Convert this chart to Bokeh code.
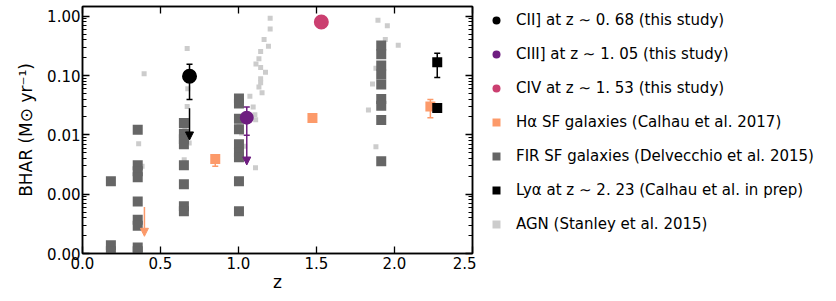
import numpy as np
from bokeh.plotting import figure
from bokeh.layouts import row
from bokeh.models import (ColumnDataSource, LinearAxis, LogAxis, FixedTicker,
                          PrintfTickFormatter, CustomJSTickFormatter, Range1d,
                          Legend, LegendItem, Arrow, NormalHead)
from bokeh.embed import file_html
from bokeh.resources import INLINE

FONT = "DejaVu Sans"

# ---------------- data ----------------
agn_z = [0.395, 0.360, 0.382, 0.671, 0.675, 0.671, 0.656, 0.684, 0.652,
         1.203, 1.203, 1.164, 1.192, 1.142, 1.131, 1.112, 1.142, 1.173, 1.142,
         1.142, 1.131, 1.151, 1.073, 1.094, 1.105, 1.110, 1.003, 1.020, 1.040,
         1.109, 1.894, 1.954, 1.941, 2.024, 1.881, 1.902, 1.859, 1.833, 1.881]
agn_bhar = [0.107, 0.0071, 0.00295, 0.285, 0.060, 0.030, 0.0122, 0.0073, 0.0038,
            0.925, 0.61, 0.405, 0.31, 0.255, 0.192, 0.156, 0.137, 0.114, 0.088,
            0.0757, 0.0638, 0.0513, 0.0445, 0.0295, 0.0219, 0.018, 0.0139, 0.0107,
            0.0064, 0.0028, 0.857, 0.689, 0.406, 0.325, 0.132, 0.098, 0.0717,
            0.0262, 0.0063]

fir_z = [0.182, 0.182, 0.182,
         0.354, 0.354, 0.354, 0.354, 0.354, 0.354, 0.354, 0.354, 0.354,
         0.650, 0.650, 0.650, 0.650, 0.650, 0.650, 0.650, 0.650,
         1.003, 1.003, 1.003, 1.003, 1.003, 1.003, 1.003, 1.003, 1.003,
         1.915, 1.915, 1.915, 1.915, 1.915, 1.915, 1.915, 1.915, 1.915]
fir_bhar = [1.65e-3, 1.38e-4, 1.09e-4,
            0.01224, 3.07e-3, 2.43e-3, 1.92e-3, 7.5e-4, 3.71e-4, 2.94e-4, 1.26e-4, 1.09e-4,
            0.0159, 0.0104, 8.4e-3, 6.92e-3, 3.07e-3, 1.47e-3, 6.25e-4, 5.15e-4,
            0.0411, 0.0339, 0.0186, 0.0124, 6.92e-3, 5.07e-3, 4.18e-3, 1.65e-3, 5.15e-4,
            0.321, 0.229, 0.148, 0.1044, 0.0708, 0.0401, 0.031, 0.01775, 3.58e-3]

ha_z = [0.851, 1.474, 2.230]
ha_bhar = [0.0039, 0.0193, 0.030]
ha_lo = [0.00295, 0.0175, 0.0195]
ha_hi = [0.0046, 0.021, 0.0396]
ha_lim_z = [0.397]
ha_lim_top = [0.00061]
ha_lim_tip = [0.000195]

lya_z = [2.274, 2.274]
lya_bhar = [0.168, 0.0283]
lya_lo = [0.093, 0.0283]
lya_hi = [0.238, 0.0283]

cii_z = [0.686]
cii_bhar = [0.097]
cii_lo = [0.0396]
cii_hi = [0.155]
cii_lim_z = [0.686]
cii_lim_top = [0.028]
cii_lim_tip = [0.0082]

ciii_z = [1.053]
ciii_bhar = [0.0195]
ciii_lo = [0.0098]
ciii_hi = [0.0294]
ciii_lim_z = [1.053]
ciii_lim_top = [0.0098]
ciii_lim_tip = [0.0031]

civ_z = [1.531]
civ_bhar = [0.80]

x_ticks = [0.0, 0.5, 1.0, 1.5, 2.0, 2.5]
y_ticks = [1e-4, 1e-3, 1e-2, 1e-1, 1.0]

labels = ["CII] at z \u223c 0. 68 (this study)",
          "CIII] at z \u223c 1. 05 (this study)",
          "CIV at z \u223c 1. 53 (this study)",
          "H\u03b1 SF galaxies (Calhau et al. 2017)",
          "FIR SF galaxies (Delvecchio et al. 2015)",
          "Ly\u03b1 at z \u223c 2. 23 (Calhau et al. in prep)",
          "AGN (Stanley et al. 2015)"]

# ---------------- colours ----------------
C_CII = "#000000"
C_CIII = "#6e1d80"
C_CIV = "#cb3f70"
C_HA = "#fc9a6a"
C_FIR = "#666666"
C_AGN = "#cccccc"
C_LYA = "#000000"

# ---------------- main figure ----------------
p = figure(width=476, height=300,
           x_range=Range1d(0.0, 2.5), y_range=Range1d(1e-4, 1.456),
           y_axis_type="log", output_backend="svg", toolbar_location=None,
           min_border=0, min_border_left=82, min_border_right=4,
           min_border_top=6, min_border_bottom=47,
           x_axis_label="z", y_axis_label="BHAR (M\u2299 yr\u207b\u00b9)")
p.grid.visible = False
p.outline_line_color = "black"
p.outline_line_width = 1.5
p.background_fill_color = "white"
p.border_fill_color = "white"

bottom_ax = p.below[0]
left_ax = p.left[0]

minor_y = [m * 10.0 ** k for k in range(-4, 0) for m in range(2, 10)]
xt = FixedTicker(ticks=x_ticks, minor_ticks=[])
yt = FixedTicker(ticks=y_ticks, minor_ticks=minor_y)

bottom_ax.ticker = xt
left_ax.ticker = yt
bottom_ax.formatter = PrintfTickFormatter(format="%.1f")
left_ax.formatter = PrintfTickFormatter(format="%.2f")

blank = CustomJSTickFormatter(code="return '';")
top_ax = LinearAxis(ticker=xt, formatter=blank)
right_ax = LogAxis(ticker=yt, formatter=blank)
p.add_layout(top_ax, "above")
p.add_layout(right_ax, "right")

for ax in [bottom_ax, left_ax, top_ax, right_ax]:
    ax.major_tick_in = 7
    ax.major_tick_out = 0
    ax.minor_tick_in = 4
    ax.minor_tick_out = 0
    ax.major_tick_line_width = 1.3
    ax.minor_tick_line_width = 1.0
    ax.major_tick_line_color = "black"
    ax.minor_tick_line_color = "black"
    ax.axis_line_width = 1.5
    ax.axis_line_color = "black"
    ax.major_label_text_font = FONT
    ax.major_label_text_font_size = "15px"
    ax.major_label_text_color = "black"
    ax.axis_label_text_font = FONT
    ax.axis_label_text_font_size = "17px"
    ax.axis_label_text_font_style = "normal"
    ax.axis_label_text_color = "black"

for ax in [top_ax, right_ax]:
    ax.major_label_standoff = 0

bottom_ax.major_label_standoff = 3
bottom_ax.axis_label_standoff = 0
left_ax.major_label_standoff = 2
left_ax.axis_label_standoff = 8

# ---------------- glyphs ----------------
p.scatter(agn_z, agn_bhar, marker="square", size=5,
          fill_color=C_AGN, line_color=None)
p.scatter(fir_z, fir_bhar, marker="square", size=10,
          fill_color=C_FIR, line_color=None)


def errbar(x, lo, hi, color):
    p.segment(x0=x, y0=lo, x1=x, y1=hi, line_color=color, line_width=1.5)
    p.scatter(x=list(x) + list(x), y=list(lo) + list(hi), marker="dash",
              size=6, line_color=color, line_width=1.5)


def uplim(x, top, tip, color):
    src = ColumnDataSource(dict(x=x, y0=top, y1=tip))
    p.add_layout(Arrow(end=NormalHead(size=8, fill_color=color,
                                      line_color=color, line_width=1),
                       x_start="x", y_start="y0", x_end="x", y_end="y1",
                       source=src, line_color=color, line_width=1.5))


errbar(ha_z, ha_lo, ha_hi, C_HA)
errbar(lya_z, lya_lo, lya_hi, C_LYA)
errbar(cii_z, cii_lo, cii_hi, C_CII)
errbar(ciii_z, ciii_lo, ciii_hi, C_CIII)

p.scatter(ha_z, ha_bhar, marker="square", size=10, fill_color=C_HA, line_color=None)
p.scatter(lya_z, lya_bhar, marker="square", size=10, fill_color=C_LYA, line_color=None)
p.scatter(cii_z, cii_bhar, marker="circle", size=15, fill_color=C_CII, line_color=None)
p.scatter(ciii_z, ciii_bhar, marker="circle", size=14, fill_color=C_CIII, line_color=None)
p.scatter(civ_z, civ_bhar, marker="circle", size=15, fill_color=C_CIV, line_color=None)

uplim(ha_lim_z, ha_lim_top, ha_lim_tip, C_HA)
uplim(cii_lim_z, cii_lim_top, cii_lim_tip, C_CII)
uplim(ciii_lim_z, ciii_lim_top, ciii_lim_tip, C_CIII)

# ---------------- legend panel (separate, axis-less figure) ----------------
# its ranges lie outside the data, so the key renderers only show in the legend
q = figure(width=354, height=300, x_range=Range1d(-2, -1), y_range=Range1d(-2, -1),
           output_backend="svg", toolbar_location=None, min_border=0,
           x_axis_location=None, y_axis_location=None)
q.grid.visible = False
q.outline_line_color = None
q.background_fill_color = "white"
q.border_fill_color = "white"

series = [(cii_z, cii_bhar, "circle", C_CII), (ciii_z, ciii_bhar, "circle", C_CIII),
          (civ_z, civ_bhar, "circle", C_CIV), (ha_z, ha_bhar, "square", C_HA),
          (fir_z, fir_bhar, "square", C_FIR), (lya_z, lya_bhar, "square", C_LYA),
          (agn_z, agn_bhar, "square", C_AGN)]
key_rends = [q.scatter(x=xs, y=ys, marker=m, size=10, fill_color=c, line_color=None)
             for xs, ys, m, c in series]

legend = Legend(items=[LegendItem(label=l, renderers=[r]) for l, r in zip(labels, key_rends)],
                location=(10, 19), orientation="vertical",
                glyph_width=20, glyph_height=20, label_height=20,
                spacing=14, padding=0, margin=0, label_standoff=10,
                label_text_font=FONT, label_text_font_size="15px",
                label_text_color="black",
                border_line_color=None, background_fill_alpha=0)
q.add_layout(legend, "center")

layout = row(p, q)
open("out.html", "w").write(file_html(layout, INLINE))
